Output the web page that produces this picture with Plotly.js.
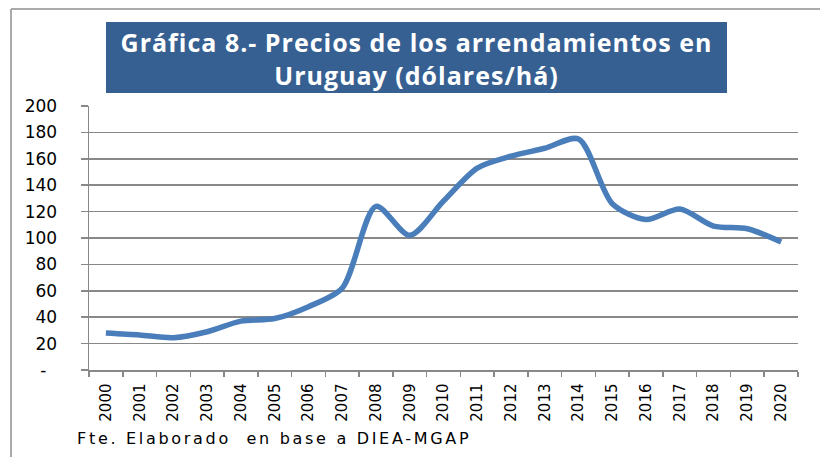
<!DOCTYPE html>
<html>
<head>
<meta charset="utf-8">
<script src="https://cdn.plot.ly/plotly-3.0.1.min.js"></script>
<style>
html,body{margin:0;padding:0;background:#fff;}
#chart{width:820px;height:457px;}
.annotation-text{letter-spacing:2.7px;}
.gtitle{letter-spacing:1px;}
</style>
</head>
<body>
<div id="chart"></div>
<script>
const years = ['2000','2001','2002','2003','2004','2005','2006','2007','2008','2009','2010','2011','2012','2013','2014','2015','2016','2017','2018','2019','2020'];
const prices = [28, 26.5, 24.5, 29, 37, 39, 48, 62, 124, 102, 128, 153, 162, 168, 175, 126, 114, 122, 109, 107, 97];
const yTickVals = [0, 20, 40, 60, 80, 100, 120, 140, 160, 180, 200];
const yTickText = ['-\u00a0\u00a0', '20', '40', '60', '80', '100', '120', '140', '160', '180', '200'];
const titleText = 'Gráfica 8.- Precios de los arrendamientos en<br>Uruguay (dólares/há)';
const sourceText = 'Fte. Elaborado  en base a DIEA-MGAP';

const W = 820, H = 457, L = 89, R = 22, T = 106, B = 87;
const pw = W - L - R, ph = H - T - B;
const px = x => (x - L) / pw;
const py = y => (H - B - y) / ph;

const font = "'DejaVu Sans', sans-serif";

Plotly.newPlot('chart', [{
  x: years, y: prices, type: 'scatter', mode: 'lines',
  line: {color: '#4A7EBB', width: 5.5, shape: 'spline', smoothing: 0.8},
  hoverinfo: 'x+y'
}], {
  width: W, height: H,
  margin: {l: L, r: R, t: T, b: B},
  paper_bgcolor: '#fff', plot_bgcolor: '#fff',
  showlegend: false,
  font: {family: font, color: '#000', size: 16},
  title: {
    text: titleText,
    font: {family: "'Open Sans', sans-serif", size: 25, color: '#fff', weight: 'bold'},
    x: px(416.5), xref: 'paper', xanchor: 'center',
    y: 1 - 52 / H, yref: 'container', yanchor: 'middle'
  },
  xaxis: {
    type: 'category', tickangle: -90,
    showgrid: false, showline: true, linecolor: '#888', linewidth: 1.5,
    ticks: 'outside', tickson: 'boundaries', ticklen: 5, tickcolor: '#888', tickwidth: 1.5,
    ticklabelstandoff: 6,
    tickfont: {family: font, size: 15, color: '#000'},
    range: [-0.5, 20.5], fixedrange: true
  },
  yaxis: {
    range: [0, 200], tickvals: yTickVals, ticktext: yTickText,
    showgrid: true, gridcolor: '#888', gridwidth: 1.5,
    showline: true, linecolor: '#888', linewidth: 1.5,
    ticks: 'outside', ticklen: 7, tickcolor: '#888', tickwidth: 1.5,
    ticklabelstandoff: 20,
    tickfont: {family: font, size: 17, color: '#000'},
    zeroline: false, fixedrange: true
  },
  shapes: [
    {type: 'rect', xref: 'paper', yref: 'paper', x0: px(106), x1: px(727), y0: py(93), y1: py(22),
     fillcolor: '#366092', line: {width: 0}, layer: 'below'},
    {type: 'line', xref: 'paper', yref: 'paper', x0: px(11), x1: px(11), y0: py(9), y1: py(470),
     line: {color: '#aaa', width: 2}},
    {type: 'line', xref: 'paper', yref: 'paper', x0: px(11), x1: px(830), y0: py(9), y1: py(9),
     line: {color: '#aaa', width: 2}}
  ],
  annotations: [
    {text: sourceText, xref: 'paper', yref: 'paper', x: px(75), y: py(438), xanchor: 'left', yanchor: 'middle',
     showarrow: false, font: {family: font, size: 16, color: '#000'}}
  ]
}, {displayModeBar: false, staticPlot: true});
</script>
</body>
</html>
